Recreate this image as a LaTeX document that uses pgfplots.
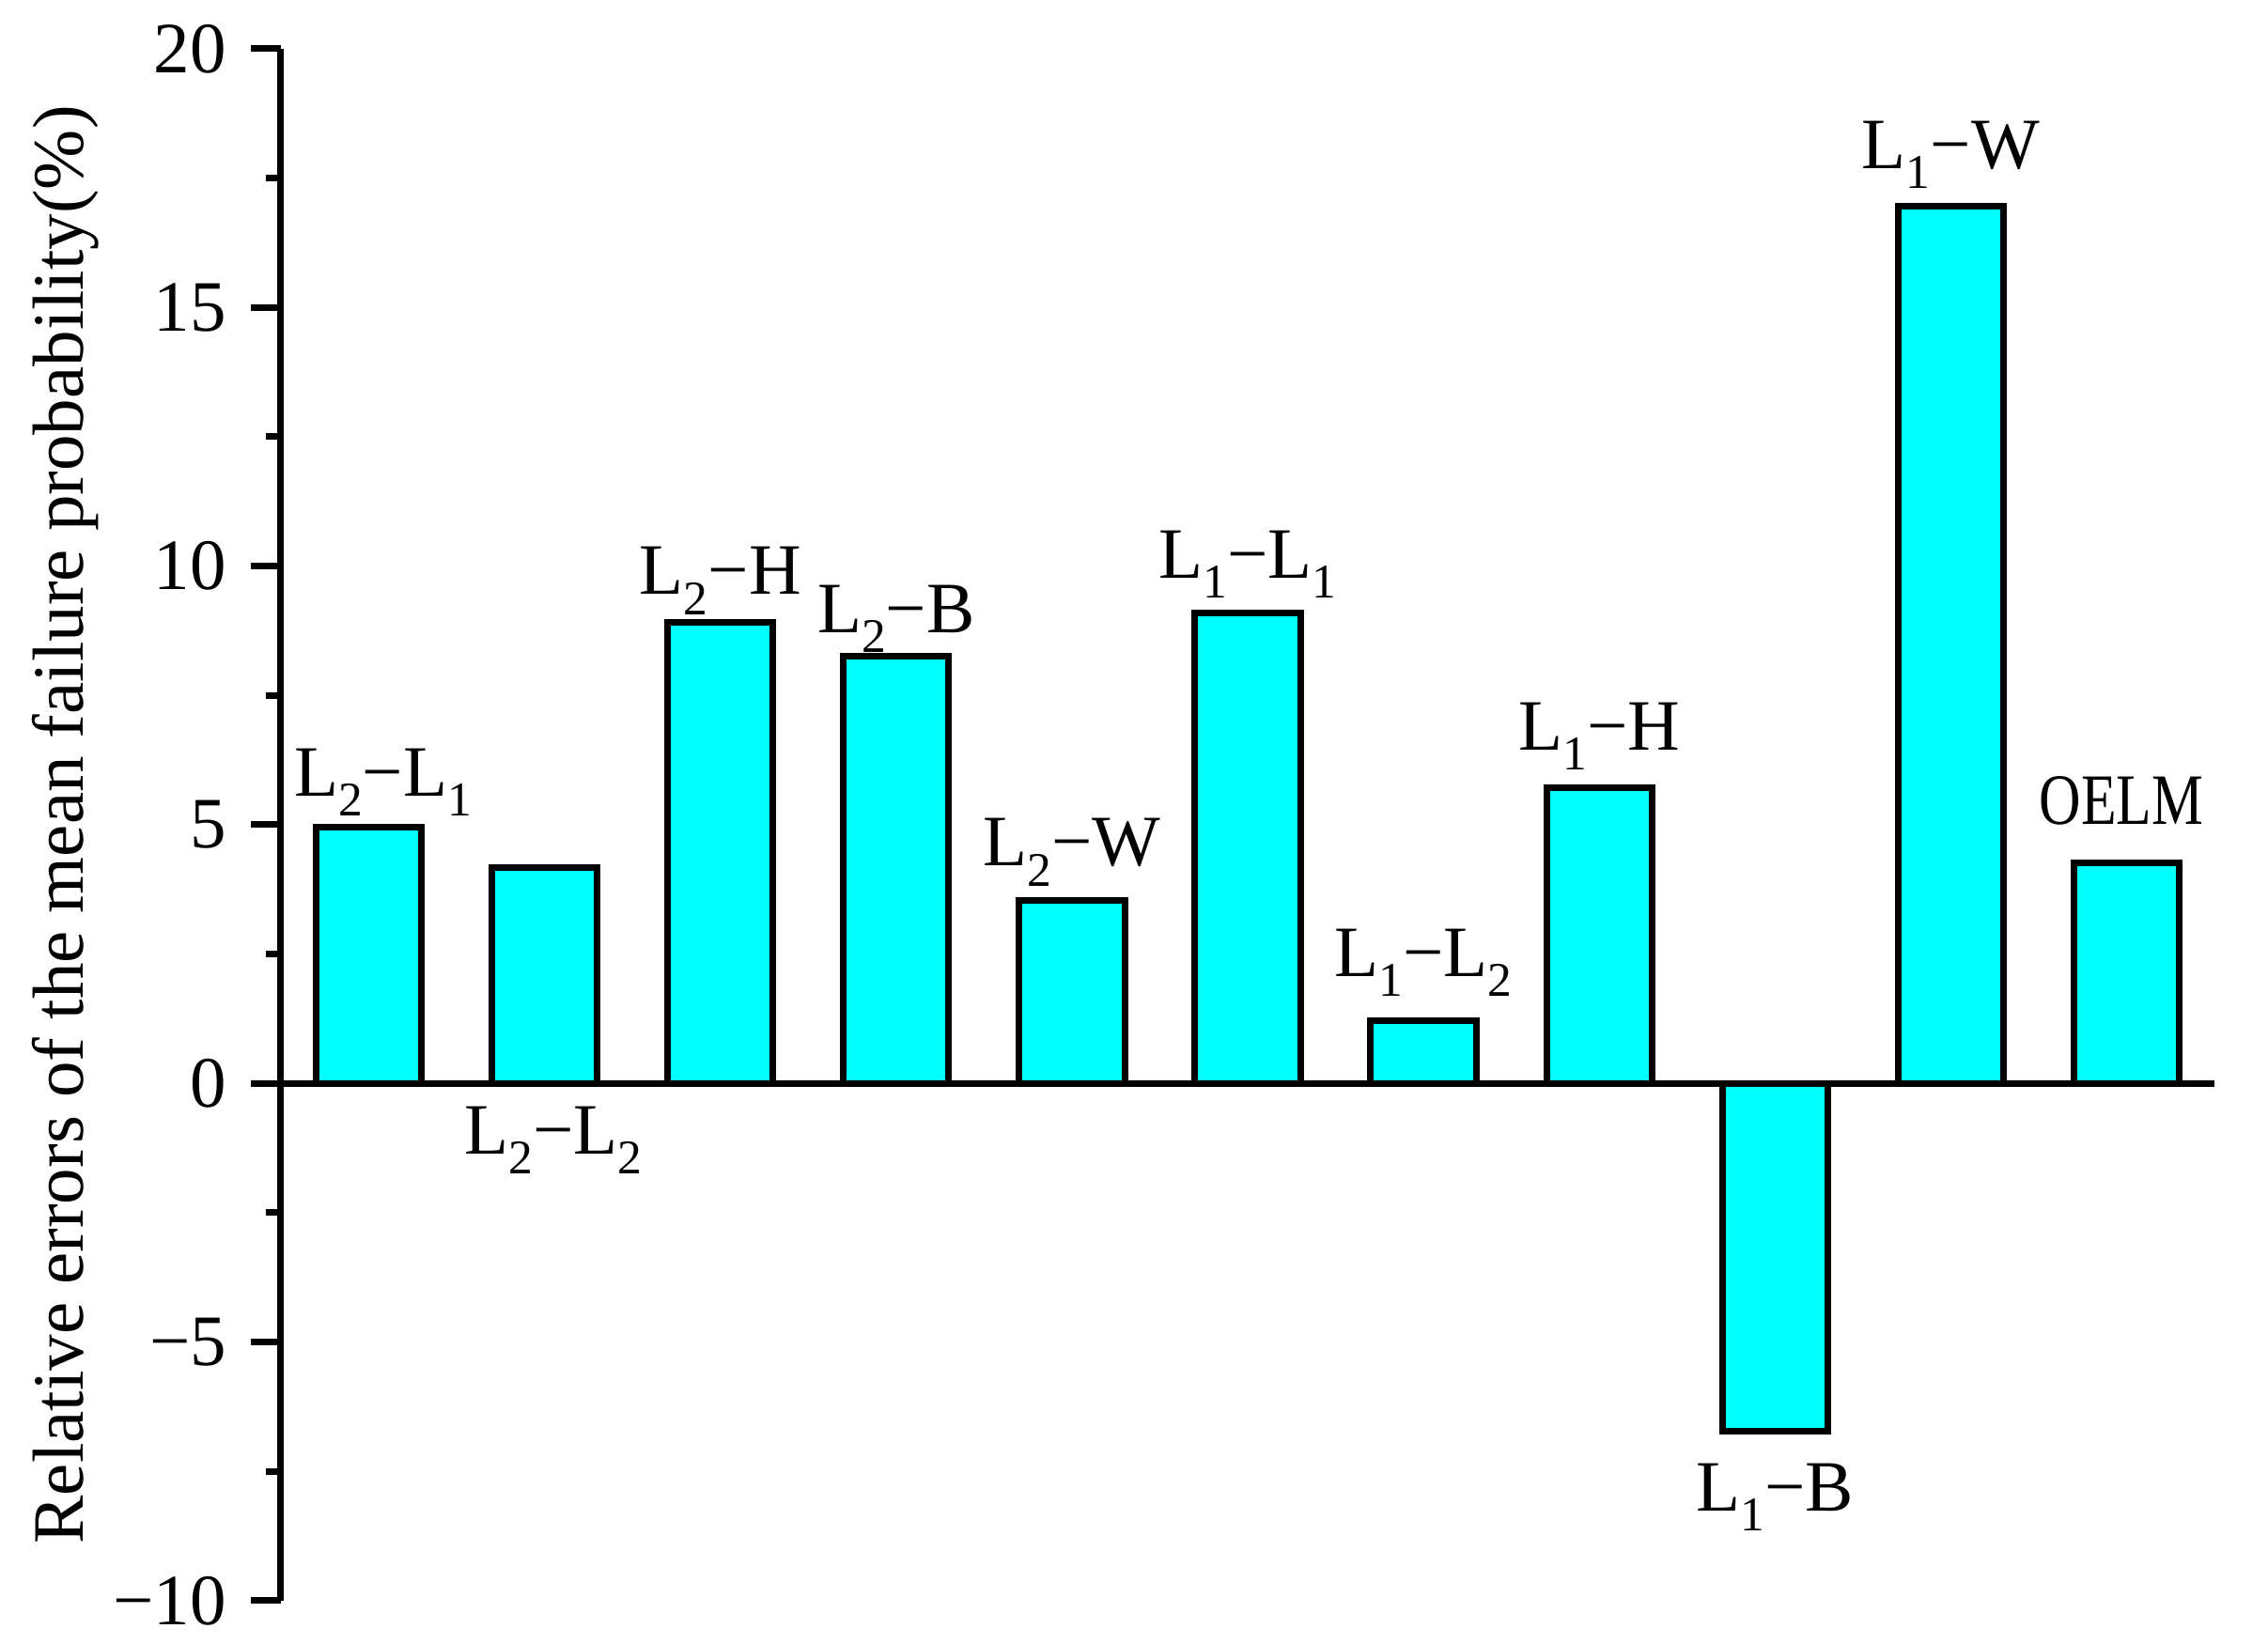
\documentclass[border=0pt]{standalone}
\usepackage{fontspec}
\setmainfont{Liberation Serif}
\usepackage{pgfplots}
\pgfplotsset{compat=1.18}
\definecolor{aqua}{RGB}{0,255,255}
\newcommand\sub[1]{\raisebox{-0.28em}{\fontsize{10.3pt}{12pt}\selectfont #1}}
\begin{document}
\begin{tikzpicture}[font=\fontsize{15.4pt}{18pt}\selectfont]
\useasboundingbox (-59.8pt,-9.2pt) rectangle (423pt,340.8pt);
\begin{axis}[
  at={(0,0)}, anchor=south west,
  scale only axis, width=411.6pt, height=330.4pt,
  xmin=0.5, xmax=11.5, ymin=-10, ymax=20,
  axis x line*=middle, axis y line*=left,
  xtick=\empty,
  ytick={-10,-5,0,5,10,15,20},
  yticklabels={−10,−5,0,5,10,15,20},
  minor ytick={-7.5,-2.5,2.5,7.5,12.5,17.5},
  tick align=outside,
  major tick length=6.4pt, minor tick length=3.2pt,
  tick style={line width=1.4pt, black},
  axis line style={line width=1.4pt, black},
  yticklabel style={anchor=east, inner sep=0pt, xshift=-5pt},
  ylabel={Relative errors of the mean failure probability(\%)},
  ylabel style={at={([xshift=-42pt]axis description cs:0,0.5)}, anchor=base, rotate=0},
  clip=false,
]
\addplot[ybar, bar width=0.6, fill=aqua, draw=black, line width=1.4pt]
  coordinates {(1,4.96) (2,4.18) (3,8.92) (4,8.26) (5,3.54) (6,9.10) (7,1.22) (8,5.72) (9,-6.72) (10,16.96) (11,4.27)};
\node[anchor=base] at (axis cs:1.08,5.56) {L\sub{2}−L\sub{1}};
\node[anchor=base] at (axis cs:2.05,-1.36) {L\sub{2}−L\sub{2}};
\node[anchor=base] at (axis cs:3,9.45) {L\sub{2}−H};
\node[anchor=base] at (axis cs:4,8.72) {L\sub{2}−B};
\node[anchor=base] at (axis cs:5,4.21) {L\sub{2}−W};
\node[anchor=base] at (axis cs:6,9.77) {L\sub{1}−L\sub{1}};
\node[anchor=base] at (axis cs:7,2.07) {L\sub{1}−L\sub{2}};
\node[anchor=base] at (axis cs:8,6.45) {L\sub{1}−H};
\node[anchor=base] at (axis cs:9,-8.26) {L\sub{1}−B};
\node[anchor=base] at (axis cs:10,17.69) {L\sub{1}−W};
\node[anchor=base] at (axis cs:10.97,5.00) {\scalebox{0.8}[1]{OELM}};
\end{axis}
\end{tikzpicture}
\end{document}
